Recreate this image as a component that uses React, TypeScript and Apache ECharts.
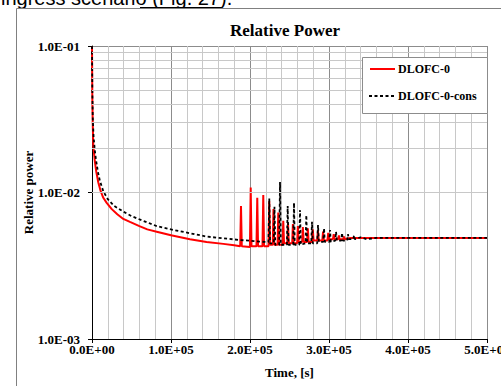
import React, { useEffect, useRef } from 'react';
import * as echarts from 'echarts';

const titleText = 'Relative Power';
const xAxisName = 'Time, [s]';
const yAxisName = 'Relative power';
const headerText = 'ingress scenario (Fig. 27).';
const seriesNames = ['DLOFC-0', 'DLOFC-0-cons'];
const seriesColors = ['#ff0000', '#000000'];

// x axis: 0 .. 5E5, major every 1E5, minor every 2E4
const xMin = 0;
const xMax = 500000;
const xInterval = 100000;
// y axis (log): 1E-3 .. 1E-1
const yMin = 0.001;
const yMax = 0.1;
const yMinorLines = [
  0.002, 0.003, 0.004, 0.005, 0.006, 0.007, 0.008, 0.009,
  0.02, 0.03, 0.04, 0.05, 0.06, 0.07, 0.08, 0.09,
];

// DLOFC-0 (red, solid): [time s, relative power]
const redCurve: [number, number][] = [
  [0, 0.1], [400, 0.045], [900, 0.03], [1600, 0.021], [2600, 0.0185], [3800, 0.016],
  [5500, 0.0138], [8000, 0.0117], [11000, 0.0102], [14300, 0.0092], [18600, 0.0085],
  [25000, 0.0077], [32000, 0.0071], [39600, 0.0066], [48000, 0.0063], [60000, 0.0059],
  [70000, 0.0056], [81900, 0.0054], [100000, 0.0051], [124000, 0.0048], [145000, 0.0046],
  [166200, 0.00446], [180000, 0.00437],
  [187600, 0.0043], [188600, 0.0081], [189600, 0.0043],
  [199900, 0.00425], [200900, 0.0108], [201900, 0.0043],
  [208200, 0.0043], [209200, 0.0092], [210200, 0.0043],
  [215800, 0.0043], [216800, 0.0096], [217800, 0.0043],
  [223400, 0.0043], [224400, 0.0087], [225400, 0.0044],
  [228800, 0.0044], [229700, 0.0077], [230700, 0.0044],
  [234900, 0.0044], [235800, 0.0073], [236800, 0.0044],
  [241200, 0.0044], [242100, 0.0064], [243100, 0.0045],
  [247200, 0.0045], [248100, 0.0062], [249100, 0.0045],
  [253400, 0.0045], [254300, 0.0061], [255300, 0.0045],
  [259700, 0.0045], [260600, 0.0059], [261600, 0.0046],
  [266000, 0.0046], [266900, 0.0058], [267900, 0.0046],
  [272300, 0.0046], [273200, 0.0057], [274200, 0.0046],
  [278600, 0.0046], [279500, 0.0056], [280500, 0.0047],
  [285000, 0.0047], [286000, 0.0055], [287000, 0.0047],
  [291500, 0.0047], [292500, 0.0054], [293500, 0.0047],
  [298000, 0.0047], [299000, 0.0053], [300000, 0.0048],
  [305000, 0.0048], [306000, 0.0052], [307000, 0.0048],
  [311500, 0.0048], [312500, 0.0051], [313500, 0.0048],
  [318000, 0.0048], [319000, 0.005], [320000, 0.0048],
  [327000, 0.0049], [335000, 0.0049], [350000, 0.0049], [400000, 0.0049],
  [450000, 0.0049], [500000, 0.0049],
];

// DLOFC-0-cons (black, dashed): [time s, relative power]
const consCurve: [number, number][] = [
  [0, 0.1], [400, 0.05], [1000, 0.032], [2000, 0.024], [3500, 0.0195], [5000, 0.0168],
  [7500, 0.0138], [10000, 0.012], [14300, 0.0102], [20000, 0.009], [28000, 0.0081],
  [39600, 0.0074], [50000, 0.0069], [65000, 0.0064], [81900, 0.0059], [100000, 0.0056],
  [124000, 0.00527], [145000, 0.005], [166200, 0.00487], [187300, 0.00474],
  [205000, 0.00466], [218000, 0.0046],
  [223400, 0.0046], [224400, 0.0091], [225400, 0.0045],
  [230000, 0.0045], [231000, 0.008], [232000, 0.0044],
  [237000, 0.0044], [238000, 0.0118], [239000, 0.0044],
  [246700, 0.0044], [247700, 0.0081], [248700, 0.0044],
  [254700, 0.0044], [255700, 0.0085], [256700, 0.0044],
  [262300, 0.0044], [263300, 0.0076], [264300, 0.0044],
  [270300, 0.0045], [271300, 0.007], [272300, 0.0045],
  [277500, 0.0045], [278500, 0.0063], [279500, 0.0045],
  [285100, 0.0045], [286100, 0.006], [287100, 0.0046],
  [292700, 0.0046], [293700, 0.0057], [294700, 0.0046],
  [300300, 0.0046], [301300, 0.00555], [302300, 0.0046],
  [307900, 0.0047], [308900, 0.0054], [309900, 0.0047],
  [315500, 0.0047], [316500, 0.0053], [317500, 0.0047],
  [323000, 0.0047], [324000, 0.0052], [325000, 0.0048],
  [330700, 0.0048], [331700, 0.0051], [332700, 0.0048],
  [340000, 0.00495], [348000, 0.0048], [360000, 0.0049], [400000, 0.0049],
  [450000, 0.0049], [500000, 0.0049],
];

const serif = "'Liberation Serif', 'Times New Roman', serif";
const sans = "'Liberation Sans', Arial, sans-serif";
const dashPattern = [3, 2.5];

function fmtE(v: number): string {
  if (v === 0) return '0.0E+00';
  const e = Math.floor(Math.log10(Math.abs(v)) + 1e-9);
  const m = v / Math.pow(10, e);
  const s = e < 0 ? '-' : '+';
  return m.toFixed(1) + 'E' + s + String(Math.abs(e)).padStart(2, '0');
}

function buildOption() {
  const labelStyle = {
    fontFamily: serif,
    fontWeight: 'bold' as const,
    fontSize: 13,
    color: '#000',
  };
  const legendText = (text: string, y: number) => ({
    type: 'text',
    x: 398,
    y,
    z: 101,
    style: {
      text,
      fontFamily: serif,
      fontWeight: 'bold',
      fontSize: 12,
      fill: '#000',
      align: 'left',
      verticalAlign: 'middle',
    },
  });
  return {
    animation: false,
    backgroundColor: '#ffffff',
    grid: {
      left: 92,
      right: 14,
      top: 46,
      bottom: 47,
      containLabel: false,
      outerBoundsMode: 'none',
    },
    xAxis: {
      type: 'value',
      min: xMin,
      max: xMax,
      interval: xInterval,
      name: xAxisName,
      nameLocation: 'middle',
      nameGap: 27,
      nameMoveOverlap: false,
      nameTextStyle: { ...labelStyle },
      axisLine: { show: true, onZero: false, lineStyle: { color: '#000', width: 1 } },
      axisTick: { show: true, length: 4, lineStyle: { color: '#000' } },
      axisLabel: { ...labelStyle, formatter: fmtE, margin: 4, showMaxLabel: true, showMinLabel: true },
      splitLine: { show: true, lineStyle: { color: '#8c8c8c', width: 1 } },
      minorTick: { show: false, splitNumber: 5 },
      minorSplitLine: { show: true, lineStyle: { color: '#c8c8c8', width: 1 } },
    },
    yAxis: {
      type: 'log',
      logBase: 10,
      min: yMin,
      max: yMax,
      name: yAxisName,
      nameLocation: 'middle',
      nameRotate: 90,
      nameGap: 57,
      nameMoveOverlap: false,
      nameTextStyle: { ...labelStyle },
      axisLine: { show: true, lineStyle: { color: '#000', width: 1 } },
      axisTick: { show: true, length: 4, lineStyle: { color: '#000' } },
      axisLabel: { ...labelStyle, formatter: fmtE, margin: 12 },
      splitLine: { show: true, lineStyle: { color: '#8c8c8c', width: 1 } },
    },
    graphic: [
      {
        type: 'text',
        x: 1,
        y: -2,
        style: {
          text: headerText,
          fontFamily: sans,
          fontSize: 20,
          fill: '#000',
          align: 'left',
          verticalAlign: 'middle',
        },
      },
      {
        type: 'line',
        shape: { x1: 140, y1: 7.5, x2: 222, y2: 7.5 },
        style: { stroke: '#000', lineWidth: 1 },
      },
      {
        type: 'rect',
        shape: { x: 16.5, y: 8.5, width: 600, height: 500 },
        style: { fill: 'none', stroke: '#808080', lineWidth: 1 },
      },
      {
        type: 'text',
        x: 285,
        y: 30,
        style: {
          text: titleText,
          fontFamily: serif,
          fontWeight: 'bold',
          fontSize: 17,
          fill: '#000',
          align: 'center',
          verticalAlign: 'middle',
        },
      },
      // legend box
      {
        type: 'rect',
        z: 100,
        shape: { x: 362.5, y: 57.5, width: 125, height: 56 },
        style: { fill: '#ffffff', stroke: '#8c8c8c', lineWidth: 1 },
      },
      {
        type: 'line',
        z: 101,
        shape: { x1: 370, y1: 69, x2: 395, y2: 69 },
        style: { stroke: seriesColors[0], lineWidth: 2 },
      },
      legendText(seriesNames[0], 69),
      {
        type: 'line',
        z: 101,
        shape: { x1: 369, y1: 96, x2: 395, y2: 96 },
        style: { stroke: seriesColors[1], lineWidth: 1.8, lineDash: dashPattern },
      },
      legendText(seriesNames[1], 96),
    ],
    series: [
      {
        name: '_grid',
        type: 'line',
        data: [],
        z: 1,
        silent: true,
        symbol: 'none',
        markLine: {
          silent: true,
          symbol: ['none', 'none'],
          label: { show: false },
          lineStyle: { color: '#c8c8c8', width: 1, type: 'solid' },
          data: yMinorLines.map((v) => ({ yAxis: v })),
          animation: false,
        },
      },
      {
        name: seriesNames[0],
        type: 'line',
        data: redCurve,
        z: 3,
        symbol: 'none',
        showSymbol: false,
        lineStyle: { color: seriesColors[0], width: 2 },
        itemStyle: { color: seriesColors[0] },
      },
      {
        name: seriesNames[1],
        type: 'line',
        data: consCurve,
        z: 4,
        symbol: 'none',
        showSymbol: false,
        lineStyle: { color: seriesColors[1], width: 1.8, type: dashPattern },
        itemStyle: { color: seriesColors[1] },
      },
    ],
  };
}

export default function App() {
  const ref = useRef<HTMLDivElement>(null);
  useEffect(() => {
    if (!ref.current) return;
    const chart = echarts.init(ref.current, null, { renderer: 'svg' });
    chart.setOption(buildOption() as any);
    return () => chart.dispose();
  }, []);
  return (
    <div
      ref={ref}
      style={{ position: 'fixed', left: 0, top: 0, width: 501, height: 386, background: '#fff' }}
    />
  );
}
